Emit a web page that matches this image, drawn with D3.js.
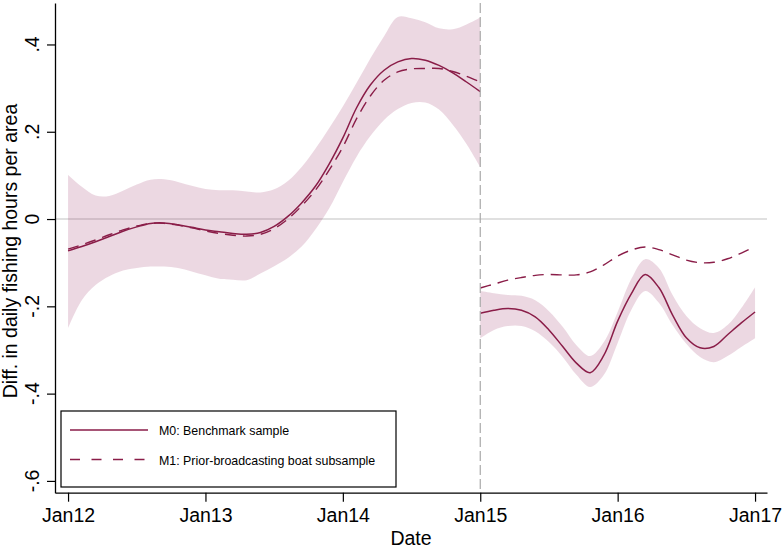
<!DOCTYPE html>
<html><head><meta charset="utf-8">
<script src="https://cdn.jsdelivr.net/npm/d3@7"></script>
<style>
body{margin:0;background:#fff}
svg{display:block}
text{font-family:"Liberation Sans",Arial,Helvetica,sans-serif;fill:#000}
</style>
</head><body>
<svg id="c" width="783" height="549"></svg>
<script>
// ---------- data ----------
const leftDates = [2012.0,2012.1,2012.2,2012.3,2012.4,2012.5,2012.6,2012.7,2012.8,2012.9,2013.0,2013.1,2013.2,2013.3,2013.4,2013.5,2013.6,2013.7,2013.8,2013.9,2014.0,2014.1,2014.2,2014.3,2014.4,2014.5,2014.6,2014.7,2014.8,2014.9,2015.0];
const m0Left = [-0.073,-0.063,-0.052,-0.040,-0.028,-0.018,-0.010,-0.009,-0.013,-0.019,-0.025,-0.029,-0.033,-0.035,-0.031,-0.017,0.006,0.037,0.075,0.126,0.186,0.255,0.307,0.341,0.360,0.368,0.364,0.352,0.335,0.314,0.292];
const m1Left = [-0.069,-0.059,-0.048,-0.036,-0.025,-0.016,-0.010,-0.010,-0.014,-0.020,-0.027,-0.033,-0.037,-0.039,-0.035,-0.022,0.000,0.030,0.066,0.112,0.165,0.230,0.282,0.318,0.337,0.344,0.345,0.345,0.338,0.327,0.314];
const ciLowLeft = [-0.250,-0.186,-0.151,-0.131,-0.118,-0.112,-0.109,-0.109,-0.112,-0.120,-0.129,-0.137,-0.139,-0.140,-0.125,-0.108,-0.089,-0.063,-0.024,0.024,0.085,0.143,0.190,0.227,0.252,0.266,0.267,0.251,0.216,0.172,0.119];
const ciHighLeft = [0.101,0.074,0.054,0.053,0.065,0.079,0.090,0.091,0.085,0.076,0.069,0.066,0.066,0.063,0.061,0.068,0.087,0.119,0.161,0.208,0.258,0.312,0.368,0.419,0.463,0.460,0.451,0.437,0.435,0.446,0.462];

const rightDates = [2015.0,2015.1,2015.2,2015.3,2015.4,2015.5,2015.6,2015.7,2015.8,2015.9,2016.0,2016.1,2016.2,2016.3,2016.4,2016.5,2016.6,2016.7,2016.8,2016.9,2017.0];
const m0Right = [-0.216,-0.209,-0.205,-0.209,-0.224,-0.254,-0.292,-0.330,-0.352,-0.312,-0.234,-0.171,-0.127,-0.157,-0.220,-0.272,-0.295,-0.292,-0.265,-0.238,-0.213];
const m1Right = [-0.158,-0.149,-0.140,-0.134,-0.129,-0.127,-0.128,-0.128,-0.121,-0.105,-0.085,-0.071,-0.064,-0.070,-0.082,-0.094,-0.100,-0.099,-0.091,-0.078,-0.063];
const ciHighRight = [-0.165,-0.170,-0.174,-0.176,-0.186,-0.211,-0.247,-0.289,-0.314,-0.282,-0.213,-0.137,-0.092,-0.112,-0.174,-0.222,-0.250,-0.261,-0.243,-0.204,-0.156];
const ciLowRight = [-0.273,-0.254,-0.245,-0.245,-0.257,-0.282,-0.316,-0.357,-0.385,-0.357,-0.284,-0.208,-0.165,-0.192,-0.243,-0.286,-0.316,-0.328,-0.314,-0.293,-0.273];

const xTickValues = [2012,2013,2014,2015,2016,2017];
const xTickLabels = ["Jan12","Jan13","Jan14","Jan15","Jan16","Jan17"];
const yTickValues = [0.4,0.2,0,-0.2,-0.4,-0.6];
const yTickLabels = [".4",".2","0","-.2","-.4","-.6"];
const breakDate = 2015;
const legendLabels = ["M0: Benchmark sample","M1: Prior-broadcasting boat subsample"];
const xTitle = "Date";
const yTitle = "Diff. in daily fishing hours per area";

// ---------- drawing ----------
const lineColor = "#8a1d48";
const svg = d3.select("#c");
const x = d3.scaleLinear().domain([2011.905, 2017.087]).range([55, 767]);
const y = d3.scaleLinear().domain([-0.627, 0.495]).range([492.7, 3]);
const curve = d3.curveCatmullRom.alpha(0.5);

// zero line
svg.append("line").attr("x1", 55).attr("x2", 767).attr("y1", y(0)).attr("y2", y(0))
  .attr("stroke", "#d6d6d6").attr("stroke-width", 1.4);

function seg(dates, lo, hi, a, b) {
  const data = dates.map((d, i) => ({d, lo: lo[i], hi: hi[i], a: a[i], b: b[i]}));
  svg.append("path").datum(data)
    .attr("d", d3.area().x(p => x(p.d)).y0(p => y(p.lo)).y1(p => y(p.hi)).curve(curve))
    .attr("fill", "#8c1a55").attr("fill-opacity", 0.17).attr("stroke", "none");
  svg.append("path").datum(data)
    .attr("d", d3.line().x(p => x(p.d)).y(p => y(p.b)).curve(curve))
    .attr("fill", "none").attr("stroke", lineColor).attr("stroke-width", 1.4)
    .attr("stroke-dasharray", "11,7");
  svg.append("path").datum(data)
    .attr("d", d3.line().x(p => x(p.d)).y(p => y(p.a)).curve(curve))
    .attr("fill", "none").attr("stroke", lineColor).attr("stroke-width", 1.5);
}
seg(leftDates, ciLowLeft, ciHighLeft, m0Left, m1Left);
seg(rightDates, ciLowRight, ciHighRight, m0Right, m1Right);

// vertical break line
svg.append("line").attr("x1", x(breakDate)).attr("x2", x(breakDate)).attr("y1", 3).attr("y2", 492.7)
  .attr("stroke", "#a9a9a9").attr("stroke-width", 1.2).attr("stroke-dasharray", "10,4");

// axes
const xAxis = d3.axisBottom(x).tickValues(xTickValues).tickSize(9).tickSizeOuter(0)
  .tickFormat((d, i) => xTickLabels[i]);
const gx = svg.append("g").attr("transform", "translate(0,492.7)").call(xAxis);
gx.select(".domain").attr("stroke", "#000").attr("stroke-width", 1.3);
gx.selectAll(".tick line").attr("stroke", "#000").attr("stroke-width", 1.2);
gx.selectAll(".tick text").attr("font-size", "19.5px").attr("y", 29).attr("dy", 0)
  .attr("font-family", "Liberation Sans, Arial, sans-serif").attr("fill", "#000");

const yAxis = d3.axisLeft(y).tickValues(yTickValues).tickSize(8).tickSizeOuter(0).tickFormat(() => "");
const gy = svg.append("g").attr("transform", "translate(55,0)").call(yAxis);
gy.select(".domain").attr("stroke", "#000").attr("stroke-width", 1.3);
gy.selectAll(".tick line").attr("stroke", "#000").attr("stroke-width", 1.2);
gy.selectAll(".tick text").remove();
svg.append("g").selectAll("text").data(yTickValues).join("text")
  .attr("transform", (d) => `translate(38.5,${y(d)}) rotate(-90)`)
  .attr("text-anchor", "middle").attr("font-size", "19.5px")
  .text((d, i) => yTickLabels[i]);

// titles
svg.append("text").attr("x", 411).attr("y", 545).attr("text-anchor", "middle")
  .attr("font-size", "19.5px").text(xTitle);
svg.append("text").attr("transform", "translate(16.5,251) rotate(-90)")
  .attr("text-anchor", "middle").attr("font-size", "19.5px").text(yTitle);

// legend
svg.append("rect").attr("x", 61).attr("y", 411).attr("width", 335).attr("height", 76)
  .attr("fill", "#fff").attr("stroke", "#000").attr("stroke-width", 1.2);
const legY = [430, 459.5];
legendLabels.forEach((lab, i) => {
  svg.append("line").attr("x1", 70).attr("x2", 148).attr("y1", legY[i]).attr("y2", legY[i])
    .attr("stroke", lineColor).attr("stroke-width", 1.4)
    .attr("stroke-dasharray", i === 1 ? "10,11.5" : null);
  svg.append("text").attr("x", 159).attr("y", legY[i] + 5).attr("font-size", "12.4px").text(lab);
});
</script>
</body></html>
